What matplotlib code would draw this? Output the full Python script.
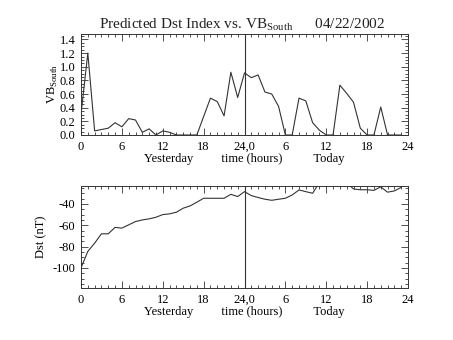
import matplotlib
matplotlib.use('Agg')
import matplotlib.pyplot as plt
from matplotlib.ticker import MultipleLocator, FixedLocator

# --- datos ---
horas = list(range(48))
vb_sur = [0.3, 1.2, 0.06, 0.08, 0.1, 0.18, 0.12, 0.24, 0.22, 0.04,
          0.09, 0.0, 0.06, 0.04, 0.0, 0.0, 0.0, 0.0, 0.27, 0.54,
          0.49, 0.28, 0.92, 0.55, 0.91, 0.84, 0.88, 0.63, 0.6, 0.42,
          0.0, 0.0, 0.54, 0.5, 0.18, 0.07, 0.0, 0.0, 0.73, 0.61,
          0.48, 0.1, 0.0, 0.0, 0.41, 0.0, 0.0, 0.0]
dst = [-100, -84.5, -76.8, -68, -68, -62, -62.7, -59.6, -56.5, -55,
       -54, -52.5, -50, -49.3, -47.8, -44, -41.9, -38.4, -34.7, -34.7,
       -34.7, -34.7, -31, -33.1, -28.5, -32.2, -34, -35.6, -36.6, -35.6,
       -34.7, -31.6, -26.9, -28.5, -30, -20, -20, -20, -20, -20,
       -26, -26.7, -26.7, -27.3, -24, -29, -27.8, -24.5]
ticks_x = [0, 6, 12, 18, 24, 30, 36, 42, 48]
etiquetas_x = ['0', '6', '12', '18', '24,0', '6', '12', '18', '24']
ticks_vb = [0.0, 0.2, 0.4, 0.6, 0.8, 1.0, 1.2, 1.4]
ticks_dst = [-100, -80, -60, -40]

plt.rcParams['font.family'] = ['Liberation Serif', 'DejaVu Serif']
plt.rcParams['mathtext.fontset'] = 'custom'
plt.rcParams['mathtext.rm'] = 'Liberation Serif'
plt.rcParams['font.size'] = 9

color_linea = '#333333'

fig = plt.figure(figsize=(4.53, 3.40), dpi=100)
W, H = 453, 340


def ejes(izq, arriba, der, abajo):
    return fig.add_axes([izq / W, 1 - abajo / H, (der - izq) / W, (abajo - arriba) / H])


def estilo(ax):
    for s in ax.spines.values():
        s.set_color(color_linea)
        s.set_linewidth(0.7)
    ax.set_xlim(0, 48)
    ax.xaxis.set_major_locator(FixedLocator(ticks_x))
    ax.set_xticklabels(etiquetas_x)
    ax.xaxis.set_minor_locator(MultipleLocator(1))
    ax.tick_params(which='both', direction='in', top=True, right=True,
                   color=color_linea, width=0.6)
    ax.tick_params(which='major', length=5, pad=4)
    ax.tick_params(which='minor', length=2.5)
    ax.axvline(24, color=color_linea, linewidth=0.8)
    ax.set_xlabel('Yesterday         time (hours)          Today', labelpad=0)


# --- panel superior: VB sur ---
ax1 = ejes(81, 34, 408, 135)
ax1.plot(horas, vb_sur, color=color_linea, linewidth=0.8)
estilo(ax1)
ax1.set_ylim(0, 1.48)
ax1.yaxis.set_major_locator(FixedLocator(ticks_vb))
ax1.set_yticklabels([f'{v:.1f}' for v in ticks_vb])
ax1.yaxis.set_minor_locator(MultipleLocator(0.05))
ax1.set_ylabel(r'VB$_{\rm South}$', labelpad=0)

# --- panel inferior: Dst ---
ax2 = ejes(81, 186, 408, 288)
ax2.plot(horas, dst, color=color_linea, linewidth=0.8)
estilo(ax2)
ax2.set_ylim(-118.8, -23.2)
ax2.yaxis.set_major_locator(FixedLocator(ticks_dst))
ax2.set_yticklabels([str(v) for v in ticks_dst])
ax2.yaxis.set_minor_locator(MultipleLocator(5))
ax2.set_ylabel('Dst (nT)', labelpad=4)

fig.text(242 / W, 1 - 25 / H, r'Predicted Dst Index vs. VB$_{\rm South}$      04/22/2002',
         ha='center', va='center', fontsize=11, color='#222222')

fig.savefig('out.png', dpi=100)
